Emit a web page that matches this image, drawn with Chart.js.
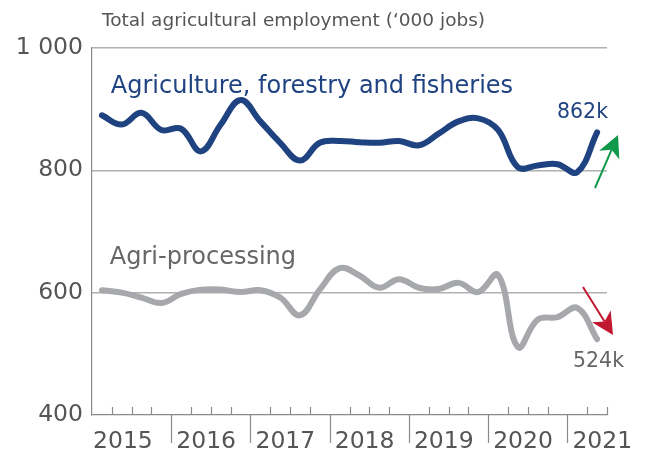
<!DOCTYPE html>
<html>
<head>
<meta charset="utf-8">
<script src="https://cdn.jsdelivr.net/npm/chart.js@4"></script>
<style>
  body { margin: 0; background: #fff; }
  canvas { display: block; }
</style>
</head>
<body>
<canvas id="empChart" width="651" height="450"></canvas>
<script>
// quarterly data, 2015 Q1 .. 2021 Q2
const years = ['2015', '2016', '2017', '2018', '2019', '2020', '2021'];
const quarters = [];
years.forEach(y => ['Q1', 'Q2', 'Q3', 'Q4'].forEach(q => quarters.push(y + q)));
quarters.length = 26;

const agriForestryFish = [890, 875, 894, 866, 868, 831, 875, 915, 880, 845,
                          816, 845, 848, 846, 845, 848, 841, 860, 880, 885,
                          866, 805, 808, 810, 797, 862];
const agriProcessing = [604, 600, 592, 583, 598, 605, 605, 601, 604, 592,
                        563, 605, 640, 628, 608, 622, 608, 606, 616, 601,
                        629, 511, 556, 560, 575, 524];
const yTicks = [400, 600, 800, 1000];

const toPoints = arr => arr.map((v, i) => ({ x: i + 0.5, y: v }));

const FONT = '"DejaVu Sans", Verdana, sans-serif';
const BLUE = '#1f4381';
const GREY = '#a6a8ab';

function arrow(ctx, x1, y1, x2, y2, color) {
  const a = Math.atan2(y2 - y1, x2 - x1);
  const len = 22, half = 11;
  const bx = x2 - Math.cos(a) * len, by = y2 - Math.sin(a) * len;
  ctx.save();
  ctx.strokeStyle = color;
  ctx.fillStyle = color;
  ctx.lineWidth = 2;
  ctx.beginPath();
  ctx.moveTo(x1, y1);
  ctx.lineTo(bx + Math.cos(a) * 6, by + Math.sin(a) * 6);
  ctx.stroke();
  ctx.beginPath();
  ctx.moveTo(x2, y2);
  ctx.lineTo(bx - Math.sin(a) * half, by + Math.cos(a) * half);
  ctx.lineTo(bx + Math.cos(a) * 6, by + Math.sin(a) * 6);
  ctx.lineTo(bx + Math.sin(a) * half, by - Math.cos(a) * half);
  ctx.closePath();
  ctx.fill();
  ctx.restore();
}

// quarter ticks (small, up), year ticks (long, down), year labels and texts
const decorations = {
  id: 'decorations',
  afterDraw(chart) {
    const ctx = chart.ctx;
    const xs = chart.scales.x, ys = chart.scales.y;
    const base = ys.getPixelForValue(400);
    ctx.save();
    ctx.strokeStyle = '#8a8a8a';
    ctx.lineWidth = 1.2;
    for (let i = 1; i <= quarters.length; i++) {
      const px = Math.round(xs.getPixelForValue(i)) + 0.5;
      ctx.beginPath();
      if (i % 4 === 0 && i < quarters.length) {
        ctx.moveTo(px, base);
        ctx.lineTo(px, base + 28);
      } else {
        ctx.moveTo(px, base);
        ctx.lineTo(px, base - 8);
      }
      ctx.stroke();
    }

    ctx.textBaseline = 'alphabetic';
    ctx.textAlign = 'left';
    ctx.fillStyle = '#555';
    ctx.font = '23.5px ' + FONT;
    years.forEach((y, k) => {
      const px = xs.getPixelForValue(k * 4);
      ctx.fillText(y, px + (k === 0 ? 1 : 5), 448);
    });

    ctx.font = '18.5px ' + FONT;
    ctx.fillText('Total agricultural employment (\u2018000 jobs)', 102, 26);

    ctx.font = '24px ' + FONT;
    ctx.fillStyle = BLUE;
    ctx.fillText('Agriculture, forestry and fisheries', xs.getPixelForValue(0.95), 93);
    ctx.fillStyle = '#666';
    ctx.fillText('Agri-processing', xs.getPixelForValue(0.9), 264);

    ctx.font = '20.5px ' + FONT;
    ctx.fillStyle = BLUE;
    ctx.fillText('862k', 557, 118);
    ctx.fillStyle = '#666';
    ctx.fillText('524k', 573, 367);
    ctx.restore();

    arrow(ctx, 595, 188, 618, 135, '#10994a');
    arrow(ctx, 583, 287, 613, 335, '#c1172f');
  }
};

const ctx = document.getElementById('empChart').getContext('2d');
new Chart(ctx, {
  type: 'line',
  data: {
    datasets: [
      { label: 'Agriculture, forestry and fisheries', data: toPoints(agriForestryFish),
        borderColor: BLUE, borderWidth: 6 },
      { label: 'Agri-processing', data: toPoints(agriProcessing),
        borderColor: GREY, borderWidth: 6 }
    ]
  },
  options: {
    responsive: false,
    animation: false,
    layout: { padding: { top: 48, right: 44, left: 0, bottom: 0 } },
    elements: {
      point: { radius: 0 },
      line: { tension: 0.4, borderCapStyle: 'round', borderJoinStyle: 'round', fill: false }
    },
    plugins: { legend: { display: false }, tooltip: { enabled: false } },
    scales: {
      x: {
        type: 'linear',
        min: 0,
        max: quarters.length,
        afterFit: s => { s.height = 35; },
        grid: { display: false },
        border: { display: true, color: '#8a8a8a', width: 1.2 },
        ticks: { display: false, stepSize: 1 }
      },
      y: {
        min: 400,
        max: 1000,
        afterFit: s => { s.width = 92; },
        afterBuildTicks: s => { s.ticks = yTicks.map(v => ({ value: v })); },
        grid: {
          drawTicks: false,
          color: ctx => ctx.tick && ctx.tick.value === 400 ? 'rgba(0,0,0,0)' : '#b0b0b0',
          lineWidth: 1.5
        },
        border: { display: true, color: '#8a8a8a', width: 1.2 },
        ticks: {
          padding: 9,
          color: '#555',
          font: { family: FONT, size: 23.5 },
          callback: v => v === 1000 ? '1 000' : String(v)
        }
      }
    }
  },
  plugins: [decorations]
});
</script>
</body>
</html>
